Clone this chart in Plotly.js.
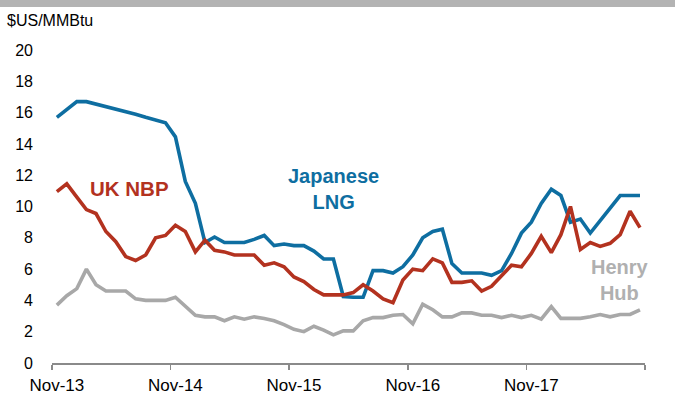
<!DOCTYPE html>
<html>
<head>
<meta charset="utf-8">
<script src="https://cdn.plot.ly/plotly-3.0.1.min.js"></script>
<style>
html,body{margin:0;padding:0;background:#fff;}
#wrap{position:relative;width:675px;height:404px;}
#chart{width:675px;height:404px;}
#band{position:absolute;left:0;top:0;width:675px;height:7px;background:#b3b3b3;}
</style>
</head>
<body>
<div id="wrap"><div id="chart"></div><div id="band"></div></div>
<script>
const months = [
 "2013-11","2013-12",
 "2014-01","2014-02","2014-03","2014-04","2014-05","2014-06","2014-07","2014-08","2014-09","2014-10","2014-11","2014-12",
 "2015-01","2015-02","2015-03","2015-04","2015-05","2015-06","2015-07","2015-08","2015-09","2015-10","2015-11","2015-12",
 "2016-01","2016-02","2016-03","2016-04","2016-05","2016-06","2016-07","2016-08","2016-09","2016-10","2016-11","2016-12",
 "2017-01","2017-02","2017-03","2017-04","2017-05","2017-06","2017-07","2017-08","2017-09","2017-10","2017-11","2017-12",
 "2018-01","2018-02","2018-03","2018-04","2018-05","2018-06","2018-07","2018-08","2018-09","2018-10"
];
const japaneseLNG = [15.7,16.2,16.7,16.7,16.55,16.4,16.2,16.05,15.9,15.7,
 15.55,15.35,14.45,11.6,10.2,7.7,8.05,7.7,7.7,7.7,
 7.9,8.15,7.5,7.6,7.5,7.5,7.15,6.65,6.65,4.25,
 4.2,4.2,5.9,5.9,5.75,6.15,6.9,8.0,8.4,8.55,
 6.35,5.75,5.75,5.75,5.6,5.9,7.0,8.3,9.0,10.2,
 11.1,10.7,9.0,9.2,8.3,9.1,9.9,10.7,10.7,10.7];
const ukNBP = [10.95,11.45,10.6,9.8,9.55,8.4,7.75,6.8,6.55,6.9,
 8.0,8.15,8.8,8.4,7.1,7.85,7.2,7.1,6.9,6.9,
 6.9,6.25,6.4,6.15,5.5,5.2,4.7,4.35,4.35,4.35,
 4.5,5.0,4.6,4.1,3.85,5.3,6.0,5.9,6.65,6.4,
 5.15,5.15,5.25,4.6,4.9,5.6,6.25,6.15,7.0,8.1,
 7.05,8.2,10.0,7.25,7.7,7.45,7.65,8.2,9.7,8.65];
const henryHub = [3.7,4.3,4.75,6.0,5.0,4.6,4.6,4.6,4.1,4.0,
 4.0,4.0,4.2,3.6,3.05,2.95,2.95,2.7,2.95,2.8,
 2.95,2.85,2.7,2.45,2.15,2.0,2.35,2.1,1.8,2.05,
 2.05,2.7,2.9,2.9,3.05,3.1,2.5,3.75,3.4,2.95,
 2.95,3.2,3.2,3.05,3.05,2.9,3.05,2.9,3.05,2.8,
 3.6,2.85,2.85,2.85,2.95,3.1,2.95,3.1,3.1,3.4];
const labelTickVals = ["2013-11-16","2014-11-16","2015-11-16","2016-11-16","2017-11-16"];
const labelTickText = ["Nov-13","Nov-14","Nov-15","Nov-16","Nov-17"];
const boundaryTicks = ["2013-11-01","2014-11-01","2015-11-01","2016-11-01","2017-11-01","2018-11-01"];

const FONT = "Arial, 'Liberation Sans', sans-serif";
const BLUE = "#0e6ea1", RED = "#b3321f", GRAY = "#a8a8a8";

function tr(y, color){
  return {x: months, y: y, type: "scatter", mode: "lines",
    xperiod: "M1", xperiodalignment: "middle",
    line: {color: color, width: 3.6}, hoverinfo: "skip"};
}
const data = [tr(henryHub, GRAY), tr(japaneseLNG, BLUE), tr(ukNBP, RED)];

const layout = {
  width: 675, height: 404,
  margin: {l: 52, r: 30, t: 50, b: 41, pad: 0},
  paper_bgcolor: "#fff", plot_bgcolor: "#fff",
  showlegend: false,
  font: {family: FONT, color: "#000", size: 16},
  xaxis: {
    type: "date", range: ["2013-11-01", "2018-11-01"],
    tickmode: "array", tickvals: labelTickVals, ticktext: labelTickText,
    ticks: "", showgrid: false, zeroline: false,
    showline: true, linecolor: "#8a8a8a", linewidth: 1.5,
    tickfont: {family: FONT, size: 17, color: "#000"},
    ticklabelstandoff: 6,
    minor: {tickmode: "array", tickvals: boundaryTicks, ticks: "outside",
            ticklen: 5, tickwidth: 1.5, tickcolor: "#8a8a8a", showgrid: false}
  },
  yaxis: {
    range: [0, 20], dtick: 2, tick0: 0,
    showgrid: false, zeroline: false, showline: false, ticks: "",
    tickfont: {family: FONT, size: 16, color: "#000"},
    ticklabelstandoff: 18
  },
  annotations: [
    {xref: "paper", yref: "paper", x: -0.079, y: 1.093, xanchor: "left", yanchor: "middle",
     text: "$US/MMBtu", showarrow: false, font: {family: FONT, size: 16, color: "#000"}},
    {xref: "paper", yref: "paper", x: 0.13, y: 0.557, xanchor: "center", yanchor: "middle",
     text: "<b>UK NBP</b>", showarrow: false, font: {family: FONT, size: 20.5, color: RED}},
    {xref: "paper", yref: "paper", x: 0.474, y: 0.556, xanchor: "center", yanchor: "middle",
     text: "<b>Japanese<br>LNG</b>", showarrow: false, font: {family: FONT, size: 20, color: BLUE}},
    {xref: "paper", yref: "paper", x: 0.958, y: 0.265, xanchor: "center", yanchor: "middle",
     text: "<b>Henry<br>Hub</b>", showarrow: false, font: {family: FONT, size: 20, color: "#b0b0b0"}}
  ]
};
Plotly.newPlot("chart", data, layout, {staticPlot: true, displayModeBar: false});
</script>
</body>
</html>
